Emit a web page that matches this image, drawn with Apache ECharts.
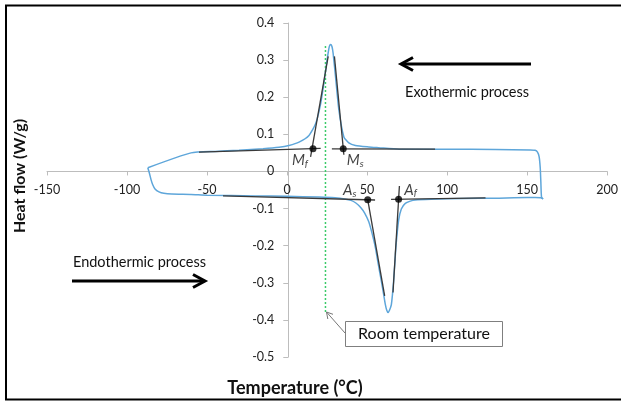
<!DOCTYPE html>
<html>
<head>
<meta charset="utf-8">
<script src="https://cdn.jsdelivr.net/npm/echarts@6/dist/echarts.min.js"></script>
<style>
html, body { margin: 0; padding: 0; background: #fff; }
#dsc { width: 621px; height: 402px; }
</style>
</head>
<body>
<div id="dsc"></div>
<script>
// heating run (lower branch, endothermic peak)
var heatTemp = [-87, -86, -85, -84, -82.5, -80, -77, -72, -60, -50, -20, 0, 20, 30, 36, 40, 43, 46, 48.5, 51, 53, 55.2, 57, 58.9, 60.3, 61.4, 62.3, 63.1, 64, 65.2, 66.6, 68, 69.7, 71.4, 73.9, 77, 80, 90, 110, 130, 150, 155, 158.5, 160];
var heatFlowUp = [0.01, -0.005, -0.022, -0.035, -0.047, -0.055, -0.059, -0.061, -0.062, -0.064, -0.066, -0.067, -0.069, -0.071, -0.074, -0.078, -0.085, -0.097, -0.112, -0.135, -0.165, -0.205, -0.25, -0.295, -0.33, -0.358, -0.374, -0.38, -0.374, -0.358, -0.295, -0.205, -0.132, -0.101, -0.086, -0.08, -0.077, -0.075, -0.073, -0.072, -0.07, -0.07, -0.071, -0.074];

// cooling run (upper branch, exothermic peak)
var coolTemp = [160, 159, 158.6, 158.2, 157.5, 156.5, 155, 152, 130, 100, 70, 57.2, 51, 42.7, 38.6, 35.5, 32.4, 30.3, 28.8, 28.1, 27.4, 26.7, 26.1, 24.7, 23, 21, 17.9, 13.7, 7.5, 1.2, -5, -15, -30, -45, -60, -87];
var coolFlow = [-0.074, -0.069, -0.03, 0.01, 0.04, 0.052, 0.057, 0.058, 0.059, 0.06, 0.06, 0.064, 0.066, 0.07, 0.077, 0.093, 0.165, 0.255, 0.318, 0.336, 0.342, 0.34, 0.33, 0.291, 0.237, 0.183, 0.129, 0.097, 0.079, 0.07, 0.065, 0.061, 0.057, 0.054, 0.05, 0.01];

// baselines and tangents: [x1, y1, x2, y2]
var tangentLines = [
    [-55, 0.052, 21, 0.062],
    [14.7, 0.039, 25.7, 0.31],
    [29.6, 0.31, 35.5, 0.045],
    [28, 0.061, 92.5, 0.060],
    [-40, -0.066, 55, -0.077],
    [50.4, -0.076, 61, -0.335],
    [66.2, -0.326, 70.2, -0.039],
    [65, -0.075, 124, -0.071]
];

// transformation temperatures
var pointNames = ['f', 's', 's', 'f'];
var pointLetters = ['M', 'M', 'A', 'A'];
var pointTemp = [16.2, 35.1, 50.4, 69.7];
var pointFlow = [0.061, 0.061, -0.076, -0.075];

var roomTemp = 24;
var roomFlowRange = [0.338, -0.38];

var xTicks = [-150, 200, 50];
var yTicks = [-0.5, 0.4, 0.1];

function zip(a, b) {
    var out = [];
    for (var i = 0; i < a.length; i++) {
        out.push([a[i], b[i]]);
    }
    return out;
}

var blue = '#5ea6da';
var labelOffsets = [[-13, 12], [12, 12], [-18, -9], [12, -9]];

// grid box in px, axes are moved onto x=0 / y=0 by offset
var gridL = 47, gridR = 610, gridT = 23, gridB = 357;
var xPx = function (v) { return gridL + (v - xTicks[0]) / (xTicks[1] - xTicks[0]) * (gridR - gridL); };
var yPx = function (v) { return gridB - (v - yTicks[0]) / (yTicks[1] - yTicks[0]) * (gridB - gridT); };

var series = [
    {
        name: 'heating',
        type: 'line',
        data: zip(heatTemp, heatFlowUp),
        smooth: 0.2,
        symbol: 'none',
        lineStyle: { color: blue, width: 1.5 },
        z: 2
    },
    {
        name: 'cooling',
        type: 'line',
        data: zip(coolTemp, coolFlow),
        smooth: 0.2,
        symbol: 'none',
        lineStyle: { color: blue, width: 1.5 },
        z: 2
    },
    {
        name: 'room',
        type: 'line',
        data: [[roomTemp, roomFlowRange[0]], [roomTemp, roomFlowRange[1]]],
        symbol: 'none',
        lineStyle: { color: '#3ccb6a', width: 1.5, type: [2, 2] },
        z: 3
    }
];

tangentLines.forEach(function (s) {
    series.push({
        type: 'line',
        data: [[s[0], s[1]], [s[2], s[3]]],
        symbol: 'none',
        lineStyle: { color: '#3a3a3a', width: 1.3 },
        z: 4
    });
});

var pts = [];
for (var i = 0; i < pointTemp.length; i++) {
    pts.push({
        value: [pointTemp[i], pointFlow[i]],
        label: {
            show: true,
            position: 'inside',
            offset: labelOffsets[i],
            formatter: '{m|' + pointLetters[i] + '}{s|' + pointNames[i] + '}'
        }
    });
}
series.push({
    type: 'scatter',
    data: pts,
    symbolSize: 7,
    itemStyle: { color: '#000' },
    label: {
        rich: {
            m: { fontFamily: 'Lato', fontStyle: 'italic', fontSize: 15, color: '#111', lineHeight: 16, verticalAlign: 'top' },
            s: { fontFamily: 'Lato', fontStyle: 'italic', fontSize: 10, color: '#111', lineHeight: 10, verticalAlign: 'bottom' }
        },
        lineHeight: 20
    },
    z: 5
});

var chart = echarts.init(document.getElementById('dsc'), null, { renderer: 'canvas' });

var option = {
    animation: false,
    backgroundColor: '#fff',
    grid: { left: gridL, right: 621 - gridR, top: gridT, bottom: 402 - gridB },
    xAxis: {
        type: 'value',
        min: xTicks[0],
        max: xTicks[1],
        interval: xTicks[2],
        position: 'bottom',
        offset: yPx(0) - gridB,
        axisLine: { onZero: false, lineStyle: { color: '#bdbdbd', width: 1 } },
        axisTick: { show: true, length: 4, lineStyle: { color: '#bdbdbd' } },
        axisLabel: { color: '#222', fontFamily: 'Lato', fontSize: 12.5, margin: 12 },
        splitLine: { show: false }
    },
    yAxis: {
        type: 'value',
        min: yTicks[0],
        max: yTicks[1],
        interval: yTicks[2],
        position: 'left',
        offset: gridL - xPx(0),
        axisLine: { show: true, onZero: false, lineStyle: { color: '#bdbdbd', width: 1 } },
        axisTick: { show: true, length: 5, lineStyle: { color: '#bdbdbd' } },
        axisLabel: {
            color: '#222', fontFamily: 'Lato', fontSize: 12.5, margin: 14,
            formatter: function (v) { return Math.abs(v) < 1e-9 ? '0' : v.toFixed(1); }
        },
        splitLine: { show: false }
    },
    graphic: [
        {
            type: 'rect',
            shape: { x: 6, y: 5.5, width: 700, height: 394 },
            style: { fill: 'none', stroke: '#000', lineWidth: 2 },
            silent: true, z: 100
        },
        // exothermic arrow
        { type: 'line', shape: { x1: 531, y1: 64, x2: 402, y2: 64 }, style: { stroke: '#000', lineWidth: 3 } },
        { type: 'polyline', shape: { points: [[413, 57.5], [401, 64], [413, 70.5]] }, style: { stroke: '#000', lineWidth: 3, fill: 'none' } },
        { type: 'text', x: 467, y: 92, style: { text: 'Exothermic process', fontFamily: 'Lato', fontSize: 14.5, fill: '#111', align: 'center', verticalAlign: 'middle' } },
        // endothermic arrow
        { type: 'line', shape: { x1: 72, y1: 281, x2: 204, y2: 281 }, style: { stroke: '#000', lineWidth: 3 } },
        { type: 'polyline', shape: { points: [[193, 274.5], [205, 281], [193, 287.5]] }, style: { stroke: '#000', lineWidth: 3, fill: 'none' } },
        { type: 'text', x: 139.5, y: 262.5, style: { text: 'Endothermic process', fontFamily: 'Lato', fontSize: 14.5, fill: '#111', align: 'center', verticalAlign: 'middle' } },
        // room temperature callout
        { type: 'line', shape: { x1: 345, y1: 333, x2: 326.5, y2: 312 }, style: { stroke: '#777', lineWidth: 1 } },
        { type: 'polyline', shape: { points: [[327.8, 319], [326.5, 312], [333, 314.3]] }, style: { stroke: '#777', lineWidth: 1, fill: 'none' } },
        { type: 'rect', shape: { x: 345.5, y: 321.5, width: 157, height: 25 }, style: { fill: '#fff', stroke: '#7f7f7f', lineWidth: 1 } },
        { type: 'text', x: 424, y: 334, style: { text: 'Room temperature', fontFamily: 'Lato', fontSize: 16, fill: '#111', align: 'center', verticalAlign: 'middle' } },
        // axis titles
        { type: 'text', x: 20, y: 176, rotation: Math.PI / 2, style: { text: 'Heat flow (W/g)', fontFamily: 'Lato', fontWeight: 'bold', fontSize: 16, fill: '#111', align: 'center', verticalAlign: 'middle' } },
        { type: 'text', x: 295, y: 388, style: { text: 'Temperature (°C)', fontFamily: 'Lato', fontWeight: 'bold', fontSize: 18, fill: '#111', align: 'center', verticalAlign: 'middle' } }
    ],
    series: series
};

chart.setOption(option);
</script>
</body>
</html>
